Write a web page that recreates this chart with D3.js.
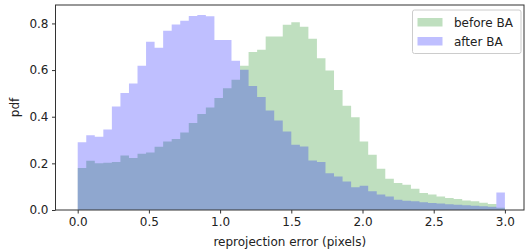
<!DOCTYPE html>
<html lang="en">

<head>
    <meta charset="UTF-8">
    <title>Reprojection error</title>
    <script src="https://d3js.org/d3.v7.min.js"></script>
    <style>
        body { margin: 0; background: #fff; }
        text { font-family: "DejaVu Sans", sans-serif; fill: #222; }
    </style>
</head>

<body>
    <svg id="chart" width="527" height="252"></svg>

    <script>
        // histogram bins: 50 bins of width 0.06 between 0 and 3
        const binEdges = d3.range(0, 50).map(i => +(i * 0.06).toFixed(2));
        const binWidth = 0.06;

        const beforeBA = [
            0.18, 0.211, 0.2, 0.203, 0.206, 0.234, 0.223, 0.241, 0.247, 0.271,
            0.294, 0.304, 0.332, 0.373, 0.412, 0.44, 0.48, 0.522, 0.558, 0.619,
            0.677, 0.687, 0.744, 0.744, 0.794, 0.805, 0.786, 0.734, 0.651, 0.598,
            0.515, 0.447, 0.398, 0.294, 0.237, 0.177, 0.134, 0.116, 0.108, 0.091,
            0.073, 0.066, 0.058, 0.051, 0.047, 0.041, 0.037, 0.031, 0.026, 0.01
        ];
        const afterBA = [
            0.29, 0.321, 0.314, 0.345, 0.444, 0.502, 0.542, 0.619, 0.721, 0.696,
            0.769, 0.795, 0.812, 0.832, 0.836, 0.831, 0.729, 0.729, 0.64, 0.601,
            0.532, 0.484, 0.427, 0.384, 0.337, 0.28, 0.272, 0.212, 0.206, 0.158,
            0.144, 0.122, 0.098, 0.104, 0.08, 0.066, 0.058, 0.044, 0.04, 0.037,
            0.033, 0.03, 0.028, 0.025, 0.022, 0.02, 0.018, 0.016, 0.014, 0.075
        ];

        const xTicks = [0, 0.5, 1.0, 1.5, 2.0, 2.5, 3.0];
        const yTicks = [0, 0.2, 0.4, 0.6, 0.8];
        const seriesNames = ["before BA", "after BA"];
        const seriesColors = ["rgba(0,128,0,0.25)", "rgba(0,0,255,0.25)"];

        const svg = d3.select("#chart");
        const plot = { left: 55.5, right: 524, top: 5, bottom: 210 };

        const x = d3.scaleLinear().domain([-0.1559, 3.1341]).range([plot.left, plot.right]);
        const y = d3.scaleLinear().domain([0, 0.879]).range([plot.bottom, plot.top]);

        // step filled histograms
        const area = d3.area()
            .curve(d3.curveStepAfter)
            .x(d => x(d[0]))
            .y0(y(0))
            .y1(d => y(d[1]));

        [beforeBA, afterBA].forEach((vals, k) => {
            const pts = vals.map((v, i) => [binEdges[i], v]);
            pts.push([binEdges[binEdges.length - 1] + binWidth, vals[vals.length - 1]]);
            svg.append("path")
                .attr("d", area(pts))
                .attr("fill", seriesColors[k]);
        });

        // axes
        const xAxis = svg.append("g")
            .attr("transform", `translate(0,${plot.bottom})`)
            .call(d3.axisBottom(x).tickValues(xTicks).tickFormat(d3.format(".1f"))
                .tickSize(3.5).tickPadding(3.5).tickSizeOuter(0));
        const yAxis = svg.append("g")
            .attr("transform", `translate(${plot.left},0)`)
            .call(d3.axisLeft(y).tickValues(yTicks).tickFormat(d3.format(".1f"))
                .tickSize(3.5).tickPadding(3.5).tickSizeOuter(0));

        [xAxis, yAxis].forEach(g => {
            g.select(".domain").remove();
            g.selectAll(".tick line").attr("stroke", "#333");
            g.selectAll(".tick text")
                .style("font-family", "DejaVu Sans")
                .style("font-size", "12px")
                .attr("fill", "#222");
        });

        // frame
        svg.append("rect")
            .attr("x", plot.left)
            .attr("y", plot.top)
            .attr("width", plot.right - plot.left)
            .attr("height", plot.bottom - plot.top)
            .attr("fill", "none")
            .attr("stroke", "#333")
            .attr("stroke-width", 1);

        // axis labels
        svg.append("text")
            .attr("x", (plot.left + plot.right) / 2)
            .attr("y", 246)
            .attr("text-anchor", "middle")
            .style("font-size", "12px")
            .text("reprojection error (pixels)");

        svg.append("text")
            .attr("transform", `translate(19,${(plot.top + plot.bottom) / 2}) rotate(-90)`)
            .attr("text-anchor", "middle")
            .style("font-size", "12px")
            .text("pdf");

        // legend
        const legend = svg.append("g");
        legend.append("rect")
            .attr("x", 412.5)
            .attr("y", 10)
            .attr("width", 108.5)
            .attr("height", 43.5)
            .attr("rx", 2)
            .attr("fill", "rgba(255,255,255,0.8)")
            .attr("stroke", "#ccc");

        seriesNames.forEach((name, i) => {
            legend.append("rect")
                .attr("x", 417.5)
                .attr("y", 18 + i * 19)
                .attr("width", 25)
                .attr("height", 8.5)
                .attr("fill", seriesColors[i]);
            legend.append("text")
                .attr("x", 454)
                .attr("y", 26.7 + i * 19)
                .style("font-size", "12px")
                .text(name);
        });
    </script>
</body>

</html>
